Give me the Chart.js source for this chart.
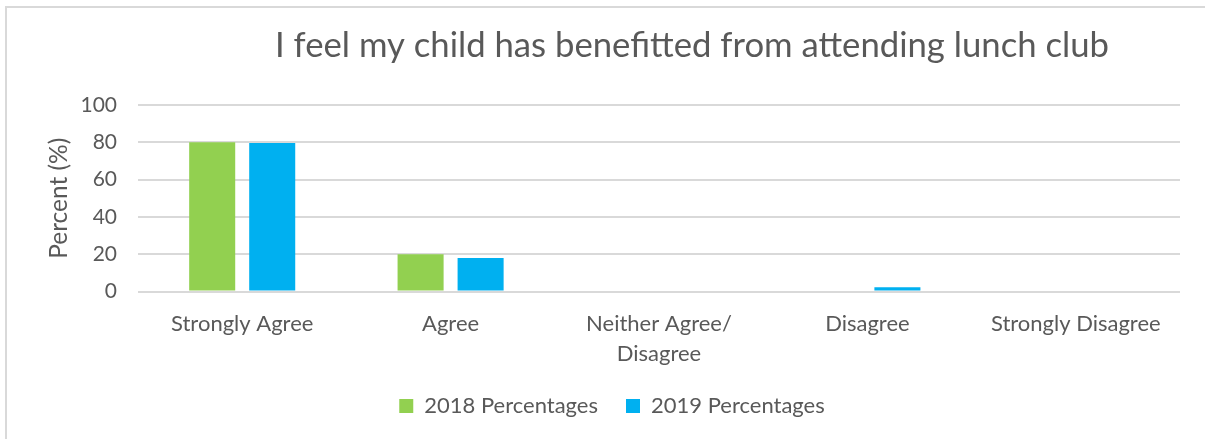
<!DOCTYPE html>
<html>
<head>
<meta charset="utf-8">
<script src="https://cdn.jsdelivr.net/npm/chart.js@4"></script>
<style>
  html, body { margin: 0; padding: 0; background: #fff; }
  #wrap { position: relative; width: 1205px; height: 439px; overflow: hidden; }
  #frame { position: absolute; left: 5px; top: 6px; width: 1400px; height: 600px; border: 2px solid #d9d9d9; box-sizing: border-box; }
  #c { position: absolute; left: 0; top: 0; }
</style>
</head>
<body>
<div id="wrap">
  <div id="frame"></div>
  <canvas id="c" width="1205" height="439"></canvas>
</div>
<script>
// data
const chartTitle = 'I feel my child has benefitted from attending lunch club';
const categories = ['Strongly Agree', 'Agree', ['Neither Agree/', 'Disagree'], 'Disagree', 'Strongly Disagree'];
const seriesNames = ['2018 Percentages', '2019 Percentages'];
const values2018 = [80, 20, 0, 0, 0];
const values2019 = [79.6, 17.9, 0, 2.3, 0];
const yTicks = [0, 20, 40, 60, 80, 100];

const textColor = '#595959';
const fontName = 'Lato, "Open Sans", sans-serif';

// titel digambar manual supaya posisinya sama dengan gambar asli
const titlePlugin = {
    id: 'manualTitle',
    afterDraw(chart) {
        const ctx = chart.ctx;
        ctx.save();
        ctx.font = '34.7px ' + fontName;
        ctx.fillStyle = textColor;
        ctx.textAlign = 'center';
        ctx.textBaseline = 'middle';
        ctx.fillText(chartTitle, 692, 46);
        ctx.restore();
    }
};

const ctx = document.getElementById('c').getContext('2d');
const myChart = new Chart(ctx, {
    type: 'bar',
    data: {
        labels: categories,
        datasets: [
            {
                label: seriesNames[0],
                data: values2018,
                backgroundColor: '#92D050',
                categoryPercentage: 0.576,
                barPercentage: 0.767
            },
            {
                label: seriesNames[1],
                data: values2019,
                backgroundColor: '#00B0F0',
                categoryPercentage: 0.576,
                barPercentage: 0.767
            }
        ]
    },
    options: {
        responsive: false,
        animation: false,
        layout: {
            padding: { top: 105, right: 25, bottom: 12, left: 44 }
        },
        plugins: {
            title: { display: false },
            tooltip: { enabled: false },
            legend: {
                position: 'bottom',
                labels: {
                    color: textColor,
                    font: { family: fontName, size: 22 },
                    boxWidth: 14,
                    boxHeight: 14,
                    padding: 28
                }
            }
        },
        scales: {
            x: {
                grid: { display: false },
                border: { display: false },
                ticks: {
                    color: textColor,
                    font: { family: fontName, size: 22, lineHeight: '30px' },
                    maxRotation: 0,
                    autoSkip: false,
                    padding: 9
                },
                afterFit(scale) { scale.height = 75.5; }
            },
            y: {
                min: 0,
                max: 100,
                afterBuildTicks(scale) { scale.ticks = yTicks.map(v => ({ value: v })); },
                grid: { color: '#d9d9d9', lineWidth: 2, drawTicks: false },
                border: { display: false },
                ticks: {
                    color: textColor,
                    font: { family: fontName, size: 21 },
                    padding: 21
                },
                title: {
                    display: true,
                    text: 'Percent (%)',
                    color: textColor,
                    font: { family: fontName, size: 24.5 },
                    padding: { top: 0, bottom: 0 }
                },
                afterFit(scale) { scale.width = 94; }
            }
        }
    },
    plugins: [titlePlugin]
});
</script>
</body>
</html>
